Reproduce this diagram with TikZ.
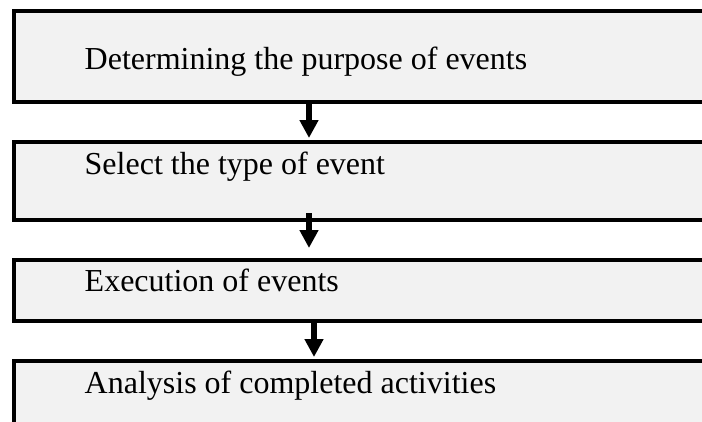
\documentclass[tikz,border=0pt]{standalone}
\usepackage{fontspec}
\setmainfont{Liberation Serif}
\usetikzlibrary{arrows.meta}
\begin{document}
\begin{tikzpicture}
        [x=1bp, y=-1bp,
        stepbox/.style={rectangle, draw=black, fill=gray!10, line width=4bp,
            minimum width=726bp, inner sep=0pt},
        txt/.style={anchor=base west, inner sep=0pt,
            font=\fontsize{32bp}{38bp}\selectfont},
        flow/.style={line width=6bp, -{Triangle[width=18bp,length=18bp]}}]
        \useasboundingbox (0,0) rectangle (702,421);
        \clip (0,0) rectangle (702,421);
        \node[stepbox, minimum height=91bp] (b1) at (377,56.5) {};
        \node[stepbox, minimum height=77.5bp] (b2) at (377,180.75) {};
        \node[stepbox, minimum height=61.5bp] (b3) at (377,290.25) {};
        \node[stepbox, minimum height=79bp] (b4) at (377,400.5) {};
        \node[txt] (t1) at (84.5,69.3) {Determining the purpose of events};
        \node[txt] (t2) at (84.5,174) {Select the type of event};
        \node[txt] (t3) at (84.5,291.7) {Execution of events};
        \node[txt] (t4) at (84.5,393.3) {Analysis of completed activities};
        \draw[flow, shorten >=2bp] (309,0 |- b1.south) -- (309,0 |- b2.north);
        \draw[flow, shorten <=-8.5bp, shorten >=9.5bp] (309,0 |- b2.south) -- (309,0 |- b3.north);
        \draw[flow, shorten >=2bp] (314,0 |- b3.south) -- (314,0 |- b4.north);
    \end{tikzpicture}
\end{document}
